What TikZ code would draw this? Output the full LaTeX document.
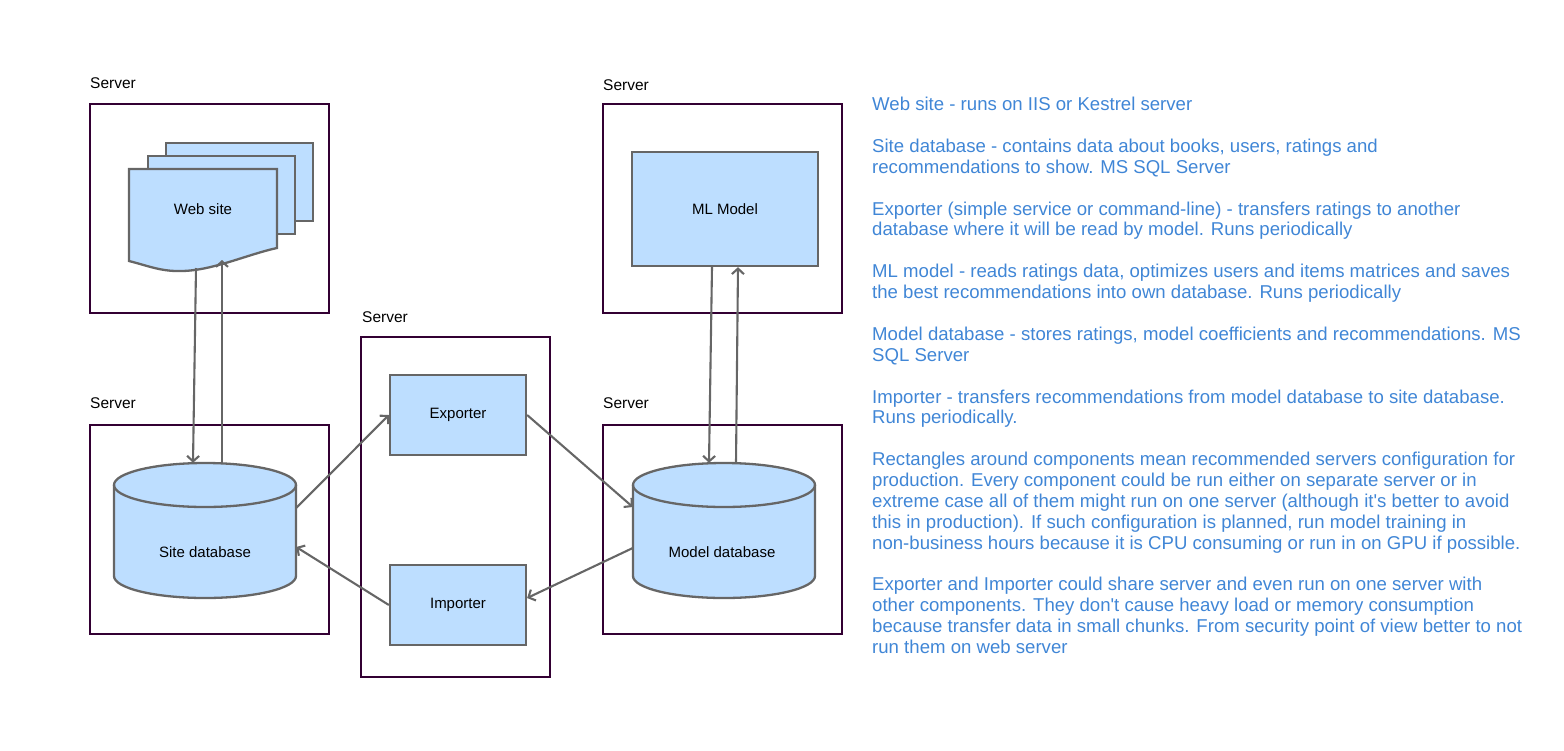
\documentclass[tikz,border=0pt]{standalone}
\usepackage{fontspec}
\setmainfont{Liberation Sans}
\usetikzlibrary{arrows.meta}
\definecolor{srv}{RGB}{51,0,51}
\definecolor{shp}{RGB}{102,102,102}
\definecolor{fillb}{RGB}{189,222,255}
\definecolor{note}{RGB}{64,134,214}
\begin{document}
\begin{tikzpicture}[x=1pt,y=-1pt,
 srvbox/.style={draw=srv, line width=2.2pt, inner sep=0},
 srvlabel/.style={anchor=base west, inner sep=0, font=\fontsize{15.5}{18}\selectfont},
 comp/.style={draw=shp, fill=fillb, line width=2.3pt, inner sep=0, font=\fontsize{15}{18}\selectfont},
 ghost/.style={inner sep=0, draw=none},
 lbl/.style={inner sep=0, font=\fontsize{15}{18}\selectfont},
 arr/.style={draw=shp, line width=2.1pt, -{Straight Barb[length=5.5pt,width=12pt]}},
]
\path[use as bounding box] (0,0) rectangle (1564,750);

% server boxes
\node[srvbox, minimum width=239pt, minimum height=209pt] (srv1) at (209.5,208.5) {};
\node[srvbox, minimum width=239pt, minimum height=209pt] (srv2) at (209.5,529.5) {};
\node[srvbox, minimum width=189pt, minimum height=340pt] (srv3) at (455.5,507) {};
\node[srvbox, minimum width=239pt, minimum height=209pt] (srv4) at (722.5,208.5) {};
\node[srvbox, minimum width=239pt, minimum height=209pt] (srv5) at (722.5,529.5) {};
\node[srvlabel] (l1) at (90,88) {Server};
\node[srvlabel] (l2) at (90,408) {Server};
\node[srvlabel] (l3) at (362,322) {Server};
\node[srvlabel] (l4) at (603,90) {Server};
\node[srvlabel] (l5) at (603,408) {Server};

% web site pages
\node[comp, minimum width=147pt, minimum height=78pt] (pg3) at (239.5,182) {};
\node[comp, minimum width=147pt, minimum height=78pt] (pg2) at (221.5,195) {};
\draw[comp] (129,169) -- (277,169) -- (277,248) .. controls (245,255) and (210,272) .. (177,271) .. controls (160,271) and (145,265) .. (129,261) -- cycle;
\node[ghost, minimum width=148pt, minimum height=102pt] (web) at (203,220) {};
\node[lbl] (webl) at (203,209) {Web site};
\coordinate (webout) at (196,268);
\coordinate (webin) at (222,260);

% site database
\draw[comp] (114,485) -- (114,576) arc[start angle=180, end angle=360, x radius=91pt, y radius=22pt] -- (296,485) arc[start angle=0, end angle=180, x radius=91pt, y radius=22pt] -- cycle;
\draw[comp, fill=none] (114,485) arc[start angle=180, end angle=360, x radius=91pt, y radius=22pt];
\node[ghost, minimum width=182pt, minimum height=135pt] (sdb) at (205,530.5) {};
\node[lbl] (sdbl) at (205,552) {Site database};

% model database
\draw[comp] (633,485) -- (633,576) arc[start angle=180, end angle=360, x radius=91pt, y radius=22pt] -- (815,485) arc[start angle=0, end angle=180, x radius=91pt, y radius=22pt] -- cycle;
\draw[comp, fill=none] (633,485) arc[start angle=180, end angle=360, x radius=91pt, y radius=22pt];
\node[ghost, minimum width=182pt, minimum height=135pt] (mdb) at (724,530.5) {};
\node[lbl] (mdbl) at (722,552) {Model database};

% other components
\node[comp, minimum width=186pt, minimum height=114pt] (ml) at (725,209) {ML Model};
\node[comp, minimum width=136pt, minimum height=80pt] (exp) at (458,415) {Exporter};
\node[comp, minimum width=136pt, minimum height=80pt] (imp) at (458,605) {Importer};

% connectors
\draw[arr] (webout) -- ([xshift=-12pt]sdb.north);
\draw[arr] ([xshift=17pt]sdb.north) -- (webin);
\draw[arr] ([xshift=-13pt]ml.south) -- ([xshift=-15pt]mdb.north);
\draw[arr] ([xshift=12pt]mdb.north) -- ([xshift=13pt]ml.south);
\draw[arr] ([yshift=22.5pt]sdb.east) -- (exp.west);
\draw[arr] (exp.east) -- ([yshift=23.5pt]mdb.west);
\draw[arr] ([yshift=-17.5pt]mdb.west) -- ([yshift=7pt]imp.east);
\draw[arr] (imp.west) -- ([yshift=-16.5pt]sdb.east);

% notes
\node[anchor=north west, inner sep=0, align=left, text=note, font=\fontsize{18.6}{20.88}\selectfont] (notes) at (872,97) {%
Web site - runs on IIS or Kestrel server\\[20.88pt]
Site database - contains data about books, users, ratings and\\
recommendations to show. MS SQL Server\\[20.88pt]
Exporter (simple service or command-line) - transfers ratings to another\\
database where it will be read by model. Runs periodically\\[20.88pt]
ML model - reads ratings data, optimizes users and items matrices and saves\\
the best recommendations into own database. Runs periodically\\[20.88pt]
Model database - stores ratings, model coefficients and recommendations. MS\\
SQL Server\\[20.88pt]
Importer - transfers recommendations from model database to site database.\\
Runs periodically.\\[20.88pt]
Rectangles around components mean recommended servers configuration for\\
production. Every component could be run either on separate server or in\\
extreme case all of them might run on one server (although it\textquotesingle s better to avoid\\
this in production). If such configuration is planned, run model training in\\
non-business hours because it is CPU consuming or run in on GPU if possible.\\[20.88pt]
Exporter and Importer could share server and even run on one server with\\
other components. They don\textquotesingle t cause heavy load or memory consumption\\
because transfer data in small chunks. From security point of view better to not\\
run them on web server};
\end{tikzpicture}
\end{document}
